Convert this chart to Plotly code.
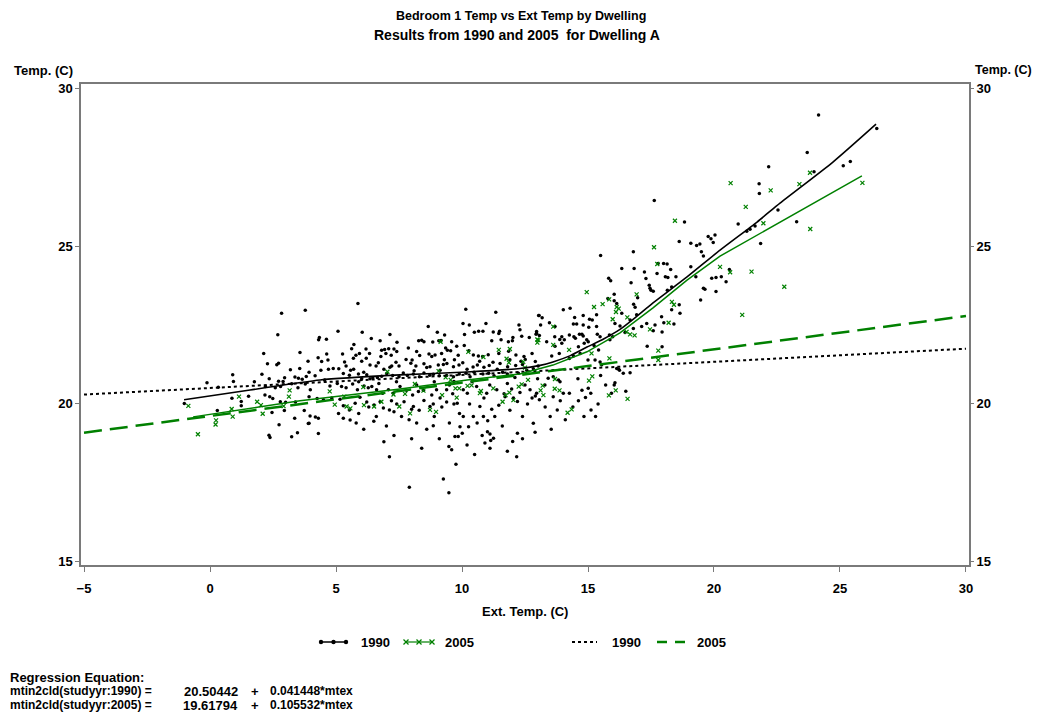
import plotly.graph_objects as go

# ---------------- data ----------------
obs_1990 = [
    (2.84,22.87),(3.78,22.97),(2.69,22.19),(4.31,22.03),(2.13,21.60),(3.57,21.63),(2.28,21.27),(2.65,21.24),
    (2.72,21.29),(3.89,21.35),(4.29,21.46),(3.19,21.08),(3.56,21.12),(2.06,20.94),(3.93,21.00),(0.90,20.92),
    (-0.12,20.67),(0.93,20.71),(1.76,20.70),(2.35,20.80),(2.72,20.72),(2.90,20.71),(2.96,20.83),(3.37,20.85),
    (3.51,20.81),(3.66,20.78),(3.82,20.87),(4.17,20.89),(0.33,20.53),(2.20,20.55),(2.59,20.51),(2.80,20.55),
    (3.24,20.64),(3.49,20.51),(3.98,20.45),(3.78,20.63),(2.18,20.28),(2.37,20.23),(0.87,20.18),(1.24,20.08),
    (1.53,20.24),(1.24,19.94),(-1.02,20.01),(2.49,20.17),(2.79,20.07),(3.00,20.05),(3.39,20.06),(3.93,20.23),
    (4.25,20.17),(0.29,19.79),(2.46,19.73),(2.95,19.79),(3.74,19.79),(3.97,19.62),(3.36,19.55),(4.18,19.59),
    (4.30,19.55),(3.93,19.39),(2.74,19.34),(3.90,19.38),(3.47,19.09),(2.34,19.01),(2.38,18.94),(3.24,18.96),
    (4.30,19.06),
    (5.87,23.18),(10.15,23.00),(11.34,22.90),(13.04,22.80),(10.04,22.55),(10.29,22.50),(10.95,22.55),(12.26,22.50),
    (12.30,22.35),(8.66,22.45),(5.08,22.30),(6.04,22.27),(7.14,22.20),(9.02,22.27),(9.31,22.18),(10.10,22.20),
    (10.49,22.27),(10.66,22.30),(10.83,22.30),(11.24,22.28),(11.46,22.23),(11.49,22.30),(12.37,22.14),(12.96,22.24),
    (13.07,22.17),(4.62,22.05),(4.34,22.10),(6.40,22.07),(6.75,22.00),(7.42,21.95),(8.28,22.00),(8.40,22.02),
    (8.49,21.97),(8.84,21.96),(9.08,22.00),(9.17,22.01),(9.59,21.97),(9.79,21.83),(9.35,21.77),(9.42,21.70),
    (10.09,21.85),(11.18,22.00),(11.55,22.03),(11.84,21.97),(12.00,22.00),(12.02,22.10),(12.67,22.10),(5.62,21.75),
    (5.71,21.88),(6.19,21.74),(6.33,21.60),(6.81,21.70),(6.93,21.72),(7.09,21.75),(7.30,21.74),(6.78,21.50),
    (6.98,21.60),(7.19,21.54),(7.41,21.66),(7.87,21.77),(8.20,21.66),(8.32,21.53),(8.69,21.58),(8.80,21.50),
    (8.93,21.55),(9.19,21.60),(9.55,21.68),(9.85,21.54),(10.27,21.68),(10.45,21.55),(10.65,21.52),(10.82,21.50),
    (11.04,21.56),(11.46,21.60),(11.85,21.67),(12.14,21.55),(12.46,21.50),(12.78,21.60),
    (4.63,21.58),(4.43,21.34),(4.68,21.39),(5.26,21.58),(5.34,21.33),(5.69,21.45),(5.79,21.54),(5.93,21.60),
    (6.02,21.35),(6.20,21.45),(6.35,21.23),(6.59,21.20),(6.68,21.30),(7.14,21.16),(7.21,21.20),(7.38,21.32),
    (7.78,21.41),(7.97,21.29),(8.02,21.39),(8.17,21.20),(8.49,21.27),(8.73,21.18),(9.06,21.23),(9.26,21.25),
    (9.40,21.28),(9.66,21.18),(9.88,21.23),(10.03,21.30),(10.44,21.17),(10.61,21.23),(10.87,21.16),(11.08,21.22),
    (11.23,21.32),(11.51,21.28),(11.81,21.18),(12.13,21.22),(12.34,21.35),(12.51,21.41),(12.91,21.34),(13.02,21.20),
    (4.40,21.07),(4.70,21.10),(4.89,21.12),(5.11,21.11),(5.29,20.96),(5.53,20.91),(5.58,21.07),(5.70,21.10),
    (5.89,20.95),(6.02,20.80),(6.22,20.92),(6.35,20.80),(6.46,20.83),(6.64,20.84),(6.81,20.88),(7.01,20.96),
    (7.25,20.90),(7.50,20.86),(7.67,20.98),(7.83,20.90),(8.07,20.95),(8.31,20.86),(8.49,20.98),(8.72,20.91),
    (8.86,20.94),(9.10,20.89),(9.13,21.07),(9.39,20.90),(9.66,20.86),(9.89,20.95),(10.16,20.97),(10.32,20.86),
    (10.48,21.00),(10.83,20.95),(11.06,20.97),(11.27,20.89),(11.61,21.00),(11.80,20.95),(12.10,20.84),(12.24,20.97),
    (12.57,21.07),(12.83,21.11),
    (4.55,20.76),(4.76,20.57),(5.05,20.65),(5.22,20.55),(5.40,20.51),(5.66,20.63),(5.85,20.45),(6.11,20.57),
    (6.28,20.51),(6.42,20.55),(6.61,20.45),(6.85,20.34),(7.08,20.45),(7.27,20.34),(7.54,20.55),(7.80,20.43),
    (8.04,20.28),(8.27,20.39),(8.47,20.43),(8.80,20.28),(8.99,20.45),(9.39,20.45),(9.63,20.32),(9.68,20.71),
    (10.05,20.45),(10.21,20.34),(10.58,20.55),(10.98,20.34),(11.38,20.45),(11.67,20.32),(11.97,20.47),(12.30,20.36),
    (12.70,20.45),(12.96,20.34),
    (4.50,20.13),(4.83,20.19),(5.16,20.15),(5.29,19.94),(5.53,19.81),(5.76,20.02),(5.95,20.21),(6.22,20.06),
    (6.51,19.97),(6.75,20.07),(6.88,19.87),(7.12,19.81),(7.41,20.00),(7.70,20.07),(8.00,19.83),(8.07,19.92),
    (8.49,20.11),(8.73,19.92),(8.86,20.00),(9.13,20.19),(9.39,20.06),(9.68,20.00),(9.81,20.02),(10.05,19.60),
    (10.45,19.60),(10.71,19.92),(10.87,20.19),(11.18,19.83),(11.46,19.96),(11.71,20.23),(12.04,20.19),(12.20,20.08),
    (12.78,20.19),(12.91,20.25),(13.07,20.13),
    (5.29,19.55),(5.56,19.49),(8.86,19.31),(10.26,19.28),(10.85,19.60),(11.02,19.47),(12.83,19.39),(12.20,19.07),
    (12.01,18.81),(9.92,19.28),(9.72,18.97),(9.85,18.97),(10.01,19.07),(10.91,18.76),(11.01,19.12),(11.11,19.05),
    (11.14,18.84),(11.25,18.91),(11.11,18.60),(9.48,18.65),(9.59,18.55),(8.40,18.60),(7.12,18.33),(12.17,18.33),
    (9.76,18.09),(9.26,17.62),(7.91,17.36),(9.48,17.19),
    (6.50,19.45),(7.00,19.30),(7.60,19.60),(8.20,19.40),(8.60,19.20),(6.10,19.20),(5.90,19.70),(7.30,19.75),
    (5.10,19.70),(5.80,19.40),(6.30,19.90),(6.60,19.60),(7.20,20.10),(7.90,19.50),(8.30,19.80),(8.90,19.60),
    (9.20,19.90),(9.50,19.40),(9.90,19.70),(10.30,20.00),(10.60,19.40),(11.30,19.60),(11.60,19.30),(11.90,19.80),
    (12.40,19.60),(12.60,20.00),(10.20,18.70),(10.50,18.40),(11.80,18.50),(12.40,18.90),(8.00,18.90),(7.30,19.00),
    (6.90,18.80),(9.10,18.90),(10.80,19.00),(12.90,19.10),
    (5.40,21.20),(6.10,21.00),(6.90,21.10),(7.50,21.20),(8.10,21.05),(8.60,21.15),(9.30,21.40),(9.70,21.40),
    (10.20,21.10),(10.70,21.35),(11.40,21.10),(11.90,21.40),(12.40,21.25),(5.90,20.70),(6.70,20.65),(7.40,20.70),
    (8.20,20.60),(8.90,20.70),(9.50,20.60),(10.40,20.70),(11.10,20.60),(11.80,20.65),(12.50,20.60),(13.00,20.80),
    (13.30,19.90),(13.90,20.10),(14.40,19.90),(14.90,20.20),(15.40,20.00),(15.70,20.60),(13.50,19.60),(14.10,19.50),
    (15.30,19.60),(14.60,20.80),(15.50,20.90),(16.50,20.40),
    (17.63,26.44),(18.83,25.76),(20.96,25.70),(18.62,25.14),(19.08,25.09),(19.31,25.02),(19.44,25.06),(19.77,25.30),
    (19.88,25.23),(20.04,25.35),(19.97,25.11),(19.50,24.82),(19.58,24.68),(16.80,24.82),(15.50,24.70),(16.34,24.29),
    (16.83,24.29),(17.24,24.18),(17.78,24.45),(18.00,24.45),(18.14,24.43),(18.28,24.26),(18.07,24.03),(18.17,24.00),
    (18.49,24.03),(17.30,23.97),(17.74,24.13),(19.08,24.34),(19.28,24.03),(19.91,23.98),(20.08,24.00),(20.29,24.03),
    (20.48,23.87),(20.61,24.26),(20.08,23.56),(19.58,23.66),(19.64,23.63),(15.82,23.98),(15.90,23.90),(16.71,23.84),
    (17.43,23.76),(17.46,23.66),(17.50,23.60),(17.59,23.57),(18.15,23.60),(18.32,23.70),(16.81,23.16),(16.87,23.06),
    (16.93,22.82),(16.97,23.36),(16.34,22.87),(16.04,23.47),(16.04,23.27),(15.79,23.34),(18.62,23.14),(18.65,22.87),
    (18.32,22.98),(19.47,23.29),(18.41,22.53),(17.92,22.76),(18.01,22.57),(17.59,22.32),(17.66,22.50),(17.94,22.28),
    (17.33,22.55),(17.13,22.45),(15.34,22.82),(15.17,22.66),(14.81,22.80),(15.06,22.68),(15.03,22.43),(14.47,22.74),
    (14.55,22.53),(14.29,23.03),(14.02,22.98),(14.26,22.18),(14.42,22.53),(14.81,22.50),(14.76,22.21),(14.81,22.15),
    (13.06,22.80),(13.18,22.73),(13.47,22.57),(13.12,22.50),(12.96,22.29),(12.94,22.21),(13.68,22.13),(13.96,22.13),
    (13.88,22.04),(13.96,21.92),(14.06,22.03),(14.44,22.13),(14.50,22.08),(14.66,22.21),(14.62,21.81),(14.95,22.03),
    (15.01,21.97),(15.37,22.21),(15.48,22.13),(15.24,21.85),(15.42,21.71),(15.87,22.03),(15.98,22.13),(15.34,22.45),
    (16.07,22.55),(16.27,22.47),(16.47,22.26),(15.85,22.18),(16.67,22.66),(16.80,22.39),(16.14,23.18),(13.69,22.45),
    (13.36,21.97),(13.69,21.83),(13.86,21.60),(13.56,21.52),(14.26,21.44),(14.42,21.52),(14.69,21.60),(14.85,21.92),
    (15.00,21.39),(15.28,21.39),(15.48,21.33),(15.54,21.24),(16.14,21.12),(16.22,21.10),(16.40,20.97),(16.25,21.07),
    (17.35,21.83),(17.94,21.81),(16.07,20.67),(16.04,20.60),(15.93,20.34),(16.67,20.99),(13.62,20.86),(13.89,20.70),
    (13.83,20.76),(13.42,20.81),(13.29,20.60),(14.02,20.34),(14.26,20.34),(13.62,20.23),(14.62,20.10),(15.11,20.34),
    (15.12,19.81),(14.76,20.43),(15.01,20.50),(13.78,19.81),(14.84,19.60),(13.54,19.20),
    (24.15,29.15),(26.46,28.72),(23.70,27.96),(22.17,27.51),(23.97,27.35),(25.13,27.54),(25.41,27.68),(21.79,26.97),
    (21.80,26.66),(22.54,26.14),(23.28,25.77),(21.30,25.47),(21.43,25.53),(21.63,25.63),(21.85,25.08),
]

obs_2005 = [
    (-0.86,19.94),(1.15,20.23),(0.86,19.84),(0.24,19.48),(0.22,19.35),(0.90,19.60),(-0.48,19.04),(2.09,19.69),
    (1.87,20.07),(2.02,19.96),(3.16,20.43),(3.13,20.23),(2.92,19.93),
    (4.75,20.40),(4.95,19.98),(5.33,20.23),(5.42,19.92),(5.57,19.86),(6.08,20.53),(6.11,19.96),(6.51,19.92),
    (6.80,20.07),(7.04,21.02),(7.28,20.30),(7.51,19.92),(7.74,20.32),(7.94,19.70),(8.13,20.63),(8.47,20.42),
    (8.73,19.81),(8.97,19.75),(9.07,21.04),(9.15,21.97),(9.21,20.28),(9.35,20.84),(9.55,20.76),(9.74,20.49),
    (9.79,20.20),(9.89,20.49),(10.22,20.57),(10.25,21.65),(10.38,20.59),(10.71,20.34),(10.75,20.41),(10.85,21.48),
    (11.24,20.49),(11.46,21.71),(11.61,20.07),(11.73,20.28),(11.77,21.43),(11.86,21.31),(11.88,20.36),(11.90,21.74),
    (12.04,20.12),(12.25,20.55),(12.37,20.62),(12.43,21.33),(12.50,21.15),(12.62,20.76),(13.03,22.02),(12.99,21.94),
    (18.45,25.80),(17.62,24.96),(20.64,24.17),(17.75,24.43),(14.95,23.54),(15.84,23.31),(15.58,23.16),(15.24,23.07),
    (16.14,23.07),(16.22,23.02),(16.11,22.91),(15.98,22.68),(16.56,22.74),(16.93,23.47),(18.33,23.23),(18.41,23.14),
    (18.20,22.57),(17.46,22.36),(13.62,22.45),(12.99,22.04),(13.62,21.87),(14.25,21.71),(15.14,21.60),(16.67,22.20),
    (16.85,22.17),(16.53,22.28),(17.79,21.69),(17.79,21.39),(15.85,21.44),(13.69,20.79),(13.20,20.58),(13.12,20.43),
    (13.87,20.43),(13.68,20.48),(15.04,20.74),(15.17,20.87),(15.83,20.27),(16.10,20.43),(16.57,20.16),(13.23,20.28),
    (14.35,19.83),(14.19,19.72),
    (20.66,26.99),(22.25,26.76),(23.81,27.32),(23.39,26.96),(21.26,26.24),(25.89,27.00),(23.82,25.54),(22.79,23.71),
    (21.12,22.82),(21.49,24.19),(21.96,25.72),(20.24,24.34),
]

# smoothed (loess) curves
loess_1990_x = [-1.03, 1.59, 4.37, 7.54, 10.20, 12.30, 13.10, 13.61, 14.30, 14.96, 15.60, 16.27, 16.90, 17.58, 18.93, 20.24, 21.71, 22.62, 24.72, 26.43]
loess_1990_y = [20.13, 20.44, 20.76, 20.92, 21.01, 21.12, 21.22, 21.33, 21.53, 21.80, 22.05, 22.36, 22.75, 23.20, 24.02, 24.87, 25.76, 26.36, 27.66, 28.86]
loess_2005_x = [-0.67, 3.57, 7.54, 10.20, 12.30, 13.61, 14.96, 16.27, 17.58, 18.93, 20.24, 21.71, 22.74, 25.87]
loess_2005_y = [19.59, 20.10, 20.47, 20.76, 20.95, 21.23, 21.65, 22.25, 23.04, 23.92, 24.68, 25.35, 25.82, 27.22]

# regression lines (end points of the fitted equations)
reg_x = [-5, 30]
reg_1990_y = [20.297, 21.748]
reg_2005_y = [19.090, 22.784]

x_ticks = [-5, 0, 5, 10, 15, 20, 25, 30]
y_ticks = [15, 20, 25, 30]

# ---------------- figure ----------------
GREEN = '#008000'
AXC = '#7a7a7a'
FONT = 'Liberation Sans, Arial, sans-serif'
OFF = 8                      # page body margin added by the browser
W, H = 1042 - OFF, 717 - OFF
ML, MR, MT, MB = 81 - OFF, 73, 84 - OFF, 152
PW, PH = W - ML - MR, H - MT - MB


def px(xp):
    return (xp - OFF - ML) / PW


def py(yp):
    return (H - MB - (yp - OFF)) / PH


fig = go.Figure()
fig.add_trace(go.Scatter(x=[p[0] for p in obs_1990], y=[p[1] for p in obs_1990], mode='markers',
                         marker=dict(symbol='circle', size=3.5, color='black', line=dict(width=0)),
                         showlegend=False, hoverinfo='skip'))
fig.add_trace(go.Scatter(x=[p[0] for p in obs_2005], y=[p[1] for p in obs_2005], mode='markers',
                         marker=dict(symbol='x-thin', size=4, color=GREEN, line=dict(color=GREEN, width=1.2)),
                         showlegend=False, hoverinfo='skip'))
fig.add_trace(go.Scatter(x=reg_x, y=reg_1990_y, mode='lines',
                         line=dict(color='black', width=2, dash='3px,3px'), showlegend=False))
fig.add_trace(go.Scatter(x=reg_x, y=reg_2005_y, mode='lines', yaxis='y2',
                         line=dict(color=GREEN, width=2.5, dash='18px,8px'), showlegend=False))
fig.add_trace(go.Scatter(x=loess_1990_x, y=loess_1990_y, mode='lines', line_shape='spline',
                         line=dict(color='black', width=1.6, smoothing=0.6), showlegend=False))
fig.add_trace(go.Scatter(x=loess_2005_x, y=loess_2005_y, mode='lines',
                         line=dict(color=GREEN, width=1.5), showlegend=False))

tickfont = dict(family=FONT, size=13, color='black', weight='bold')
fig.update_layout(
    width=W, height=H, autosize=False,
    margin=dict(l=ML, r=MR, t=MT, b=MB),
    paper_bgcolor='white', plot_bgcolor='white',
    font=dict(family=FONT, color='black'),
    xaxis=dict(range=[-5.12, 30.12], tickvals=x_ticks, ticks='outside', ticklen=5, tickwidth=1,
               tickcolor=AXC, showline=True, linecolor=AXC, linewidth=1.5, mirror=True,
               showgrid=False, zeroline=False, tickfont=tickfont, ticklabelstandoff=6),
    yaxis=dict(range=[14.9, 30.13], tickvals=y_ticks, ticks='outside', ticklen=4, tickwidth=1,
               tickcolor=AXC, showline=True, linecolor=AXC, linewidth=1.5, mirror=True,
               showgrid=False, zeroline=False, tickfont=tickfont),
    yaxis2=dict(range=[14.9, 30.13], tickvals=y_ticks, ticks='outside', ticklen=4, tickwidth=1,
                tickcolor=AXC, overlaying='y', side='right', showline=False,
                showgrid=False, zeroline=False, tickfont=tickfont),
)


def txt(s, xp, yp, size=13, anchor='center'):
    fig.add_annotation(text=s, x=px(xp), y=py(yp), xref='paper', yref='paper', showarrow=False,
                       xanchor=anchor, yanchor='middle',
                       font=dict(family=FONT, size=size, color='black', weight='bold'))


txt('Bedroom 1 Temp vs Ext Temp by Dwelling', 521, 16, 12.5)
txt('Results from 1990 and 2005\u00a0 for Dwelling A', 517, 35, 14)
txt('Temp. (C)', 12, 70, 13, 'left')
txt('Temp. (C)', 1034, 70, 12.5, 'right')
txt('Ext. Temp. (C)', 525, 611, 13)

# legend
LY = 642
txt('1990', 375, LY, 13)
txt('2005', 459, LY, 13)
txt('1990', 626, LY, 13)
txt('2005', 711, LY, 13)


def seg(x0, x1, y, color, width, dash='solid'):
    fig.add_shape(type='line', xref='paper', yref='paper', x0=px(x0), x1=px(x1), y0=py(y), y1=py(y),
                  line=dict(color=color, width=width, dash=dash))


seg(321, 346, LY, 'black', 1.5)
for cx in (321, 333.5, 346):
    fig.add_shape(type='circle', xref='paper', yref='paper', x0=px(cx - 2.2), x1=px(cx + 2.2),
                  y0=py(LY + 2.2), y1=py(LY - 2.2), fillcolor='black', line=dict(color='black', width=0))
seg(406, 432, LY, GREEN, 1.2)
for cx in (406, 419, 432):
    fig.add_shape(type='line', xref='paper', yref='paper', x0=px(cx - 2.5), x1=px(cx + 2.5),
                  y0=py(LY - 2.5), y1=py(LY + 2.5), line=dict(color=GREEN, width=1.2))
    fig.add_shape(type='line', xref='paper', yref='paper', x0=px(cx - 2.5), x1=px(cx + 2.5),
                  y0=py(LY + 2.5), y1=py(LY - 2.5), line=dict(color=GREEN, width=1.2))
seg(572, 597, LY, 'black', 2, '3px,3px')
seg(657, 667, LY, GREEN, 2.5)
seg(675, 685, LY, GREEN, 2.5)

# regression equation text
txt('Regression Equation:', 8, 677, 13, 'left')
txt('mtin2cld(studyyr:1990) =', 8, 691, 12, 'left')
txt('20.50442', 240, 691, 13, 'right')
txt('+', 255, 691, 13)
txt('0.041448*mtex', 268, 691, 12, 'left')
txt('mtin2cld(studyyr:2005) =', 8, 705, 12, 'left')
txt('19.61794', 240, 705, 13, 'right')
txt('+', 255, 705, 13)
txt('0.105532*mtex', 268, 705, 12, 'left')

fig.write_html('out.html', config={'displayModeBar': False})
